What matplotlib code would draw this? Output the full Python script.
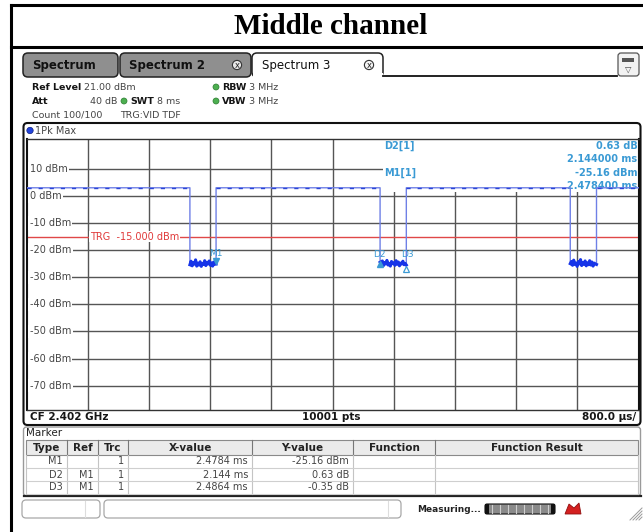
import numpy as np
import matplotlib.pyplot as plt
from matplotlib.patches import Rectangle, FancyBboxPatch, Circle, Polygon

# ------------------------------------------------------------
# data
# ------------------------------------------------------------
sweep_ms = 8.0
div_ms = 0.8
ref_level = 21.0
bottom_level = -79.0
y_ticks = [10, 0, -10, -20, -30, -40, -50, -60, -70]
y_tick_labels = ["10 dBm", "0 dBm", "-10 dBm", "-20 dBm", "-30 dBm",
                 "-40 dBm", "-50 dBm", "-60 dBm", "-70 dBm"]

high_level = 3.0
dip_start = [2.136, 4.622, 7.108]
dip_end = [2.478, 4.965, 7.451]
dip1 = [-25.4, -24.1, -25.8, -24.6, -25.2, -23.6, -25.9, -24.8, -25.5, -24.3,
        -26.0, -24.9, -25.3, -23.9, -25.7, -24.5, -25.1, -24.0, -25.6, -24.7,
        -25.9, -24.4, -25.2, -25.16]
dip2 = [-24.5, -25.3, -24.0, -25.7, -24.6, -25.1, -23.8, -25.5, -24.9, -25.9,
        -24.2, -25.0, -24.7, -25.6, -23.9, -25.2, -24.4, -25.8, -24.8, -25.1,
        -24.1, -25.4, -24.9, -25.5]
dip3 = [-25.0, -24.2, -25.6, -23.7, -25.3, -24.8, -26.0, -24.3, -25.1, -23.5,
        -25.7, -24.6, -25.2, -24.0, -25.8, -24.7, -25.4, -23.9, -25.5, -24.4,
        -25.9, -24.8, -25.1, -25.3]
dip_noise = [dip1, dip2, dip3]

trg_level = -15.0

marker_names = ["M1", "D2", "D3"]
marker_x = [2.4784, 4.6224, 4.9648]
marker_y = [-25.16, -24.53, -25.51]

info_left = ["D2[1]", "", "M1[1]", ""]
info_right = ["0.63 dB", "2.144000 ms", "-25.16 dBm", "2.478400 ms"]

tbl_header = ["Type", "Ref", "Trc", "X-value", "Y-value", "Function", "Function Result"]
tbl_type = ["M1", "D2", "D3"]
tbl_ref = ["", "M1", "M1"]
tbl_trc = ["1", "1", "1"]
tbl_x = ["2.4784 ms", "2.144 ms", "2.4864 ms"]
tbl_y = ["-25.16 dBm", "0.63 dB", "-0.35 dB"]

# ------------------------------------------------------------
# figure, pixel based overlay for the screen furniture
# ------------------------------------------------------------
W, H = 643, 532
fig = plt.figure(figsize=(W / 100, H / 100), dpi=100)
fig.patch.set_facecolor("white")

ui = fig.add_axes([0, 0, 1, 1])
ui.set_xlim(0, W)
ui.set_ylim(H, 0)
ui.axis("off")
ui.set_zorder(0)

GRAY_TXT = "#454545"
MK_BLUE = "#3a9ad4"

# outer frame + title
ui.plot([11, 11], [5, H], color="black", lw=2.2)
ui.plot([11, W], [5, 5], color="black", lw=2.2)
ui.plot([11, W], [47, 47], color="black", lw=2.2)
ui.text(331, 27, "Middle channel", family="Liberation Serif", weight="bold",
        fontsize=21, ha="center", va="center")

# tabs
tabs = [(23, 95, "Spectrum", False), (120, 131, "Spectrum 2", False),
        (252, 131, "Spectrum 3", True)]
for x0, w, name, active in tabs:
    fc = "white" if active else "#8f8f8f"
    ui.add_patch(FancyBboxPatch((x0, 53), w, 24, boxstyle="round,pad=0,rounding_size=5",
                                fc=fc, ec="#222222", lw=1.1))
    ui.text(x0 + (10 if active else 9), 65.5, name, fontsize=8.5,
            weight="normal" if active else "bold", color="#111111", va="center")
    if name != "Spectrum":
        cx = x0 + w - 14
        ui.add_patch(Circle((cx, 65), 4.6, fc="#f4f4f4" if active else "#e6e6e6",
                            ec="#333333", lw=0.8))
        ui.text(cx, 65, "x", fontsize=6, ha="center", va="center", color="#222222")
ui.plot([383, 617], [76, 76], color="#111111", lw=1.3)
ui.add_patch(Rectangle((252.6, 73), 130, 5, fc="white", ec="none"))
ui.add_patch(FancyBboxPatch((618, 53), 21, 23, boxstyle="round,pad=0,rounding_size=3",
                            fc="#f2f2f2", ec="#555555", lw=0.9))
ui.add_patch(Rectangle((622, 58), 12, 4, fc="#555555", ec="none"))
ui.text(628, 69, "\u25bd", fontsize=6, ha="center", va="center", color="#444444")

# setting lines
def dot(x, y):
    ui.add_patch(Circle((x, y), 3, fc="#4caf50", ec="#2e7d32", lw=0.5))

FS = 6.8
ui.text(32, 87, "Ref Level", fontsize=FS, weight="bold", color="#151515", va="center")
ui.text(84, 87, "21.00 dBm", fontsize=FS, color=GRAY_TXT, va="center")
dot(216, 87)
ui.text(222, 87, "RBW", fontsize=FS, weight="bold", color="#151515", va="center")
ui.text(249, 87, "3 MHz", fontsize=FS, color=GRAY_TXT, va="center")

ui.text(32, 101, "Att", fontsize=FS, weight="bold", color="#151515", va="center")
ui.text(117, 101, "40 dB", fontsize=FS, color=GRAY_TXT, va="center", ha="right")
dot(124, 101)
ui.text(130, 101, "SWT", fontsize=FS, weight="bold", color="#151515", va="center")
ui.text(157, 101, "8 ms", fontsize=FS, color=GRAY_TXT, va="center")
dot(216, 101)
ui.text(222, 101, "VBW", fontsize=FS, weight="bold", color="#151515", va="center")
ui.text(249, 101, "3 MHz", fontsize=FS, color=GRAY_TXT, va="center")

ui.text(32, 115, "Count 100/100", fontsize=FS, color=GRAY_TXT, va="center")
ui.text(120, 115, "TRG:VID TDF", fontsize=FS, color=GRAY_TXT, va="center")

# plot panel
ui.add_patch(FancyBboxPatch((23.5, 123), 617, 302, boxstyle="round,pad=0,rounding_size=4",
                            fc="white", ec="#111111", lw=1.5))
ui.add_patch(Circle((30, 130.5), 3.2, fc="#2244dd", ec="#102080", lw=0.5))
ui.text(35, 130.5, "1Pk Max", fontsize=7, color=GRAY_TXT, va="center")
ui.text(30, 417.5, "CF 2.402 GHz", fontsize=7.5, weight="bold", color="#151515", va="center")
ui.text(331, 417.5, "10001 pts", fontsize=7.5, weight="bold", color="#151515",
        va="center", ha="center")
ui.text(636, 417.5, "800.0 \u00b5s/", fontsize=7.5, weight="bold", color="#151515",
        va="center", ha="right")

# marker table
ui.add_patch(FancyBboxPatch((23.5, 427), 617, 69, boxstyle="round,pad=0,rounding_size=3",
                            fc="white", ec="#9a9a9a", lw=1))
ui.plot([23.5, 640.5], [496, 496], color="#222222", lw=1.6)
ui.text(26, 433.5, "Marker", fontsize=7.5, color="#222222", va="center")
col_edges = [26, 67, 98, 128, 252, 353, 435, 638]
row_edges = [440, 455, 468, 481, 494]
ui.add_patch(Rectangle((26, 440), 612, 15, fc="#ebebeb", ec="#8a8a8a", lw=0.8))
for i, h in enumerate(tbl_header):
    ui.text((col_edges[i] + col_edges[i + 1]) / 2, 448, h, fontsize=7.5,
            weight="bold", color="#222222", ha="center", va="center")
for xe in col_edges[1:-1]:
    ui.plot([xe, xe], [440, 455], color="#777777", lw=0.8)
    ui.plot([xe, xe], [455, 494], color="#c4c4c4", lw=0.8)
for ye in row_edges[2:]:
    ui.plot([26, 638], [ye, ye], color="#cfcfcf", lw=0.8)
ui.plot([26, 26], [455, 494], color="#c4c4c4", lw=0.8)
ui.plot([638, 638], [455, 494], color="#c4c4c4", lw=0.8)
columns = [tbl_type, tbl_ref, tbl_trc, tbl_x, tbl_y]
for r in range(3):
    yc = (row_edges[r + 1] + row_edges[r + 2]) / 2
    for c, col in enumerate(columns):
        ui.text(col_edges[c + 1] - 4, yc, col[r], fontsize=7, color=GRAY_TXT,
                ha="right", va="center")

# status bar
ui.add_patch(FancyBboxPatch((22, 500), 78, 18, boxstyle="round,pad=0,rounding_size=4",
                            fc="white", ec="#a8a8a8", lw=0.9))
ui.plot([85, 85], [501, 517], color="#dddddd", lw=0.8)
ui.add_patch(FancyBboxPatch((104, 500), 297, 18, boxstyle="round,pad=0,rounding_size=4",
                            fc="white", ec="#a8a8a8", lw=0.9))
ui.plot([388, 388], [501, 517], color="#dddddd", lw=0.8)
ui.text(417, 509, "Measuring...", fontsize=6.5, weight="bold", color="#222222", va="center")
ui.add_patch(FancyBboxPatch((485, 504), 70, 10, boxstyle="round,pad=0,rounding_size=2",
                            fc="#8a8a8a", ec="#111111", lw=0.8))
for xs in range(492, 552, 8):
    ui.plot([xs, xs], [505, 513], color="#cfcfcf", lw=0.8)
ui.add_patch(Rectangle((485, 504), 4, 10, fc="#111111", ec="none"))
ui.add_patch(Rectangle((551, 504), 4, 10, fc="#111111", ec="none"))
ui.add_patch(Polygon([[565, 514], [569, 504], [574, 508], [579, 503], [581, 514]],
                     closed=True, fc="#d42020", ec="#901010", lw=0.6))
for k in range(4):
    ui.plot([630 + 3 * k, 642], [520, 508 + 3 * k], color="#9a9a9a", lw=0.7)

# ------------------------------------------------------------
# the trace diagram
# ------------------------------------------------------------
ax = fig.add_axes([26.5 / W, 1 - 410 / H, 612 / W, 271 / H])
ax.set_zorder(2)
ax.set_facecolor("white")
ax.set_xlim(0, sweep_ms)
ax.set_ylim(bottom_level, ref_level)
ax.set_xticks([])
ax.set_yticks([])
for side in ["left", "right"]:
    ax.spines[side].set_color("#111111")
    ax.spines[side].set_linewidth(1.5)
for side in ["top", "bottom"]:
    ax.spines[side].set_color("#333333")
    ax.spines[side].set_linewidth(1.0)

grid_c = "#555555"
for k in range(1, 10):
    ax.axvline(k * div_ms, color=grid_c, lw=1, zorder=1)
for v in y_ticks:
    ax.axhline(v, color=grid_c, lw=1, zorder=1)
for v, lab in zip(y_ticks, y_tick_labels):
    ax.text(0.04, v, lab, fontsize=7, color=GRAY_TXT, va="center", ha="left", zorder=3,
            bbox=dict(fc="white", ec="none", pad=1.2))

# trigger line
ax.axhline(trg_level, color="#e04848", lw=1, zorder=2)
ax.text(0.83, trg_level, "TRG  -15.000 dBm", fontsize=7, color="#e03a3a",
        va="center", ha="left", zorder=3, bbox=dict(fc="white", ec="none", pad=0.6))

# marker info block (white box under the trace)
ax.add_patch(Rectangle((4.655, 1.4), sweep_ms - 4.655, ref_level - 1.4,
                       fc="white", ec="none", zorder=2))
info_y = [18.3, 13.5, 8.4, 3.6]
for lt, rt, yy in zip(info_left, info_right, info_y):
    if lt:
        ax.text(4.68, yy, lt, fontsize=7, weight="bold", color=MK_BLUE,
                va="center", ha="left", zorder=3)
    ax.text(7.985, yy, rt, fontsize=7, weight="bold", color=MK_BLUE,
            va="center", ha="right", zorder=3)

# trace
tx, ty = [0.0], [high_level]
for s, e, noise in zip(dip_start, dip_end, dip_noise):
    tx += [s, s]
    ty += [high_level, noise[0]]
    tx += list(np.linspace(s, e, len(noise)))
    ty += noise
    tx += [e]
    ty += [high_level]
tx.append(sweep_ms)
ty.append(high_level)
ax.plot(tx, ty, color="#6f80e6", lw=1.0, zorder=4)
high_from = [0.0] + dip_end
high_to = dip_start + [sweep_ms]
for a, b in zip(high_from, high_to):
    ax.plot([a, b], [high_level, high_level], color="#2b45d8", lw=1.0,
            ls=(0, (3, 5)), zorder=4)
for s, e, noise in zip(dip_start, dip_end, dip_noise):
    ax.plot(np.linspace(s, e, len(noise)), noise, color="#1634e8", lw=2.2, zorder=5)

# markers on the trace
ax.plot(marker_x[0], marker_y[0] + 1.2, marker="v", ms=5, color=MK_BLUE, zorder=6)
ax.plot(marker_x[1], marker_y[1] - 0.6, marker="^", ms=5, color=MK_BLUE, zorder=6)
ax.plot(marker_x[2], marker_y[2] - 1.4, marker="^", ms=5, mfc="white", mec=MK_BLUE,
        mew=0.9, zorder=6)
ax.text(marker_x[0] - 0.09, -21.3, marker_names[0], fontsize=6.5, color=MK_BLUE,
        ha="left", va="center", zorder=6)
ax.text(marker_x[1] - 0.09, -21.5, marker_names[1], fontsize=6.5, color=MK_BLUE,
        ha="left", va="center", zorder=6)
ax.text(marker_x[2] - 0.07, -21.5, marker_names[2], fontsize=6.5, color=MK_BLUE,
        ha="left", va="center", zorder=6)

fig.savefig("out.png", dpi=100, facecolor="white")
